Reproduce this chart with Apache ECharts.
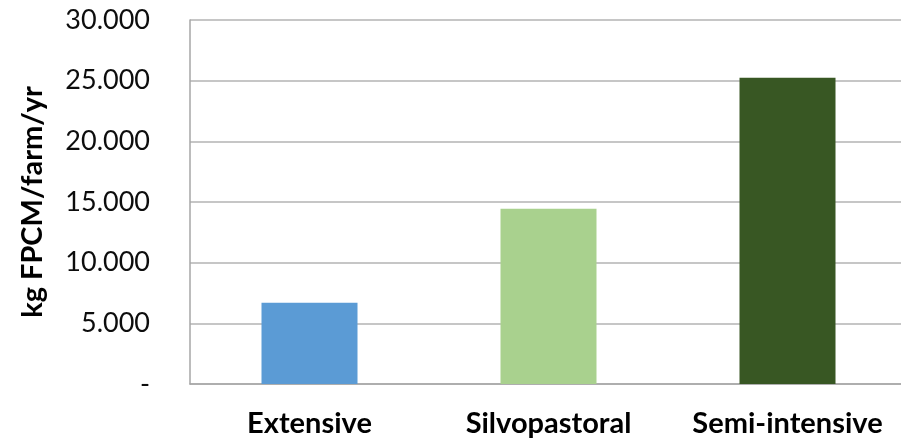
<!DOCTYPE html>
<html>
<head>
<meta charset="utf-8">
<title>Milk production by farm system</title>
<script src="https://cdn.jsdelivr.net/npm/echarts@6/dist/echarts.min.js"></script>
<style>
  html, body { margin: 0; padding: 0; background: #ffffff; overflow: hidden; width: 901px; height: 444px; }
  /* the plot area runs a few pixels past the right edge of the window */
  #chart { width: 907px; height: 444px; }
</style>
</head>
<body>
<div id="chart"></div>
<script>
// Farm systems and their yearly fat-and-protein-corrected milk output
const categories = ['Extensive', 'Silvopastoral', 'Semi-intensive'];
const milkPerFarm = [6700, 14450, 25250];
const barColors = ['#5b9bd5', '#a9d18e', '#385723'];
const yTicks = [0, 5000, 10000, 15000, 20000, 25000, 30000];

// 25000 -> "25.000", 0 -> "-"
function formatTick(v) {
  if (v === 0) return '-';
  return String(v).replace(/\B(?=(\d{3})+(?!\d))/g, '.');
}

const chart = echarts.init(document.getElementById('chart'), null, { renderer: 'canvas' });

chart.setOption({
  backgroundColor: '#ffffff',
  animation: false,
  grid: { left: 190, right: 0, top: 20, bottom: 60, containLabel: false },
  xAxis: {
    type: 'category',
    data: categories,
    axisLine: { show: true, lineStyle: { color: '#a6a6a6', width: 1.5 } },
    axisTick: { show: false },
    axisLabel: {
      interval: 0,
      margin: 25,
      color: '#000000',
      fontFamily: 'Lato',
      fontWeight: 'bold',
      fontSize: 29
    }
  },
  yAxis: {
    type: 'value',
    min: yTicks[0],
    max: yTicks[yTicks.length - 1],
    interval: yTicks[1] - yTicks[0],
    name: 'kg FPCM/farm/yr',
    nameLocation: 'middle',
    nameGap: 143,
    nameTextStyle: {
      color: '#000000',
      fontFamily: 'Lato',
      fontWeight: 'bold',
      fontSize: 29
    },
    axisLine: { show: true, lineStyle: { color: '#a6a6a6', width: 1.5 } },
    axisTick: { show: false },
    splitLine: { show: true, lineStyle: { color: '#b3b3b3', width: 1.5 } },
    axisLabel: {
      margin: 40,
      color: '#0d0d0d',
      fontFamily: 'Lato',
      fontSize: 27,
      formatter: formatTick
    }
  },
  series: [{
    type: 'bar',
    barWidth: 96,
    data: milkPerFarm.map((v, i) => ({ value: v, itemStyle: { color: barColors[i] } }))
  }]
});
</script>
</body>
</html>
